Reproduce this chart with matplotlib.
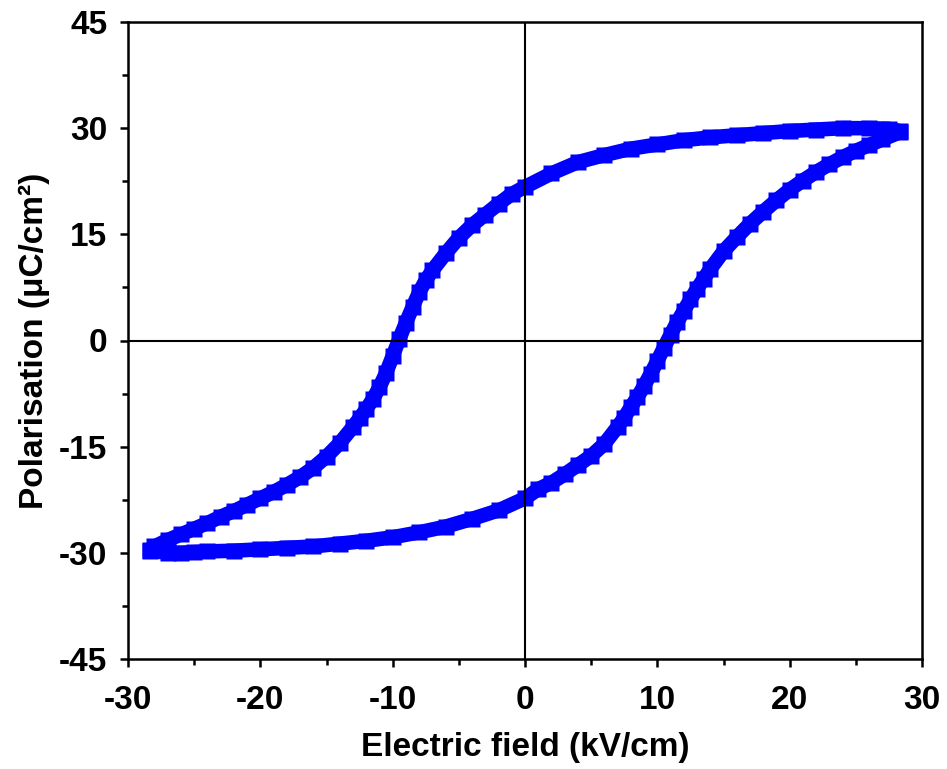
import matplotlib
matplotlib.use("Agg")
import matplotlib.pyplot as plt

# Descending branch (from +Emax to -Emax)
E_down = [28.3, 27.5, 26, 24, 22, 20, 18, 16, 14, 12, 10, 8, 6, 4, 2, 0,
          -1, -2, -3, -4, -5, -6, -7, -7.5, -8, -8.5, -9, -9.5, -10, -10.5,
          -11, -11.5, -12, -12.5, -13, -14, -15, -16, -17, -18, -19, -20,
          -21, -22, -23, -24, -25, -26, -27, -28, -28.3]
P_down = [29.6, 29.9, 30.0, 30.0, 29.8, 29.6, 29.3, 29.0, 28.7, 28.3, 27.7,
          27.1, 26.2, 25.2, 23.6, 21.7, 20.7, 19.3, 17.8, 16.3, 14.5, 12.3,
          9.9, 8.5, 6.8, 4.7, 2.5, 0.2, -2.2, -4.6, -6.6, -8.3, -9.7, -11.0,
          -12.2, -14.5, -16.4, -18.0, -19.3, -20.4, -21.4, -22.3, -23.2,
          -24.1, -24.9, -25.8, -26.6, -27.4, -28.2, -29.1, -29.6]

# Ascending branch (from -Emax to +Emax)
E_up = [-28.3, -27, -26, -25, -24, -22, -20, -18, -16, -14, -12, -10, -8, -6,
        -4, -2, 0, 1, 2, 3, 4, 5, 6, 7, 7.5, 8, 8.5, 9, 9.5, 10, 10.5, 11,
        11.5, 12, 12.5, 13, 13.5, 14, 15, 16, 17, 18, 19, 20, 21, 22, 23, 24,
        25, 26, 27, 28.3]
P_up = [-29.7, -30.0, -30.0, -29.9, -29.8, -29.7, -29.5, -29.3, -29.1, -28.7,
        -28.3, -27.8, -27.1, -26.3, -25.2, -24.0, -22.3, -21.0, -20.1, -18.9,
        -17.6, -16.3, -14.6, -12.2, -10.9, -9.4, -8.0, -6.4, -4.7, -2.9, -1.0,
        0.8, 2.6, 4.2, 5.8, 7.3, 8.7, 10.1, 12.6, 14.6, 16.5, 18.2, 19.8, 21.3,
        22.6, 23.8, 24.9, 25.9, 26.8, 27.6, 28.4, 29.4]

x_ticks = [-30, -20, -10, 0, 10, 20, 30]
y_ticks = [-45, -30, -15, 0, 15, 30, 45]

plt.rcParams['font.family'] = ['Liberation Sans', 'DejaVu Sans']
plt.rcParams['font.weight'] = 'bold'
plt.rcParams['axes.unicode_minus'] = False

fig = plt.figure(figsize=(9.47, 7.69), dpi=100)
ax = fig.add_axes([128/947, 1-659/769, (922-128)/947, (659-22)/769])

blue = '#0000FF'
for E, P in [(E_down, P_down), (E_up, P_up)]:
    ax.plot(E, P, color=blue, lw=10.5, solid_joinstyle='round',
            solid_capstyle='butt', zorder=2)
    ax.plot(E, P, ls='none', marker='s', ms=11.5, mfc=blue, mec='none', zorder=2)

ax.axhline(0, color='black', lw=1.5, zorder=3)
ax.axvline(0, color='black', lw=1.5, zorder=3)

ax.set_xlim(-30, 30)
ax.set_ylim(-45, 45)
ax.set_xticks(x_ticks)
ax.set_yticks(y_ticks)
ax.set_xticks([-25, -15, -5, 5, 15, 25], minor=True)
ax.set_yticks([-37.5, -22.5, -7.5, 7.5, 22.5, 37.5], minor=True)

for s in ax.spines.values():
    s.set_linewidth(1.8)

ax.tick_params(which='major', direction='out', length=6, width=1.8,
               labelsize=24, pad=9)
ax.tick_params(axis='x', which='major', pad=13)
ax.tick_params(which='minor', direction='out', length=4, width=1.8)
for lab in ax.get_xticklabels() + ax.get_yticklabels():
    lab.set_fontweight('bold')

ax.set_xlabel('Electric field (kV/cm)', fontsize=24, fontweight='bold', labelpad=11)
ax.set_ylabel('Polarisation (\u03bcC/cm\u00b2)', fontsize=24, fontweight='bold', labelpad=6)

fig.savefig('out.png', dpi=100)
